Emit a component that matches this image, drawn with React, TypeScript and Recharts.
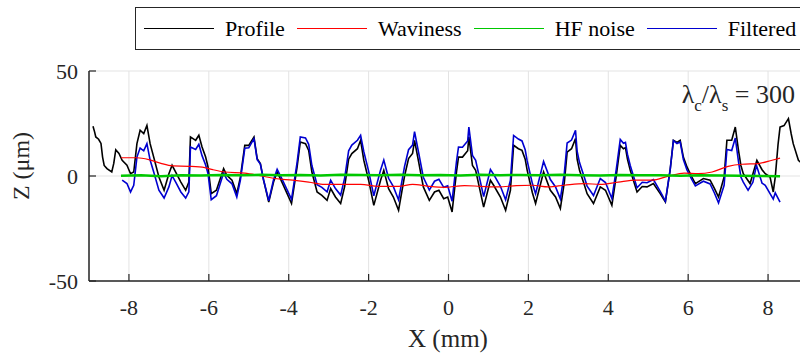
import { CartesianGrid, Legend, Line, LineChart, XAxis, YAxis } from "recharts";

const xTicks = [-8, -6, -4, -2, 0, 2, 4, 6, 8];
const yTicks = [-50, 0, 50];

// [x (mm), z (um)]
const profile: [number, number][] = [
    [-8.9, 23.7], [-8.86, 21], [-8.83, 18.6], [-8.76, 17.5], [-8.7, 15.5], [-8.66, 9], [-8.62, 5], [-8.55, 3.5],
    [-8.43, 1.9], [-8.38, 6], [-8.33, 12.5], [-8.25, 10.7], [-8.17, 7.5], [-8.05, 5.1], [-7.96, 1.1], [-7.88, 1.9],
    [-7.8, 15.4], [-7.72, 21.8], [-7.63, 20.2], [-7.55, 24.1], [-7.47, 15.4], [-7.38, 9], [-7.25, -0.5], [-7.12, -6.8],
    [-7.0, 1.1], [-6.92, 5.1], [-6.83, 1.9], [-6.7, -2.9], [-6.58, -6.8], [-6.5, -2.9], [-6.46, 18.6], [-6.33, 17],
    [-6.25, 19.4], [-6.17, 13.8], [-6.08, 9], [-6.02, 4.3], [-5.94, -8.4], [-5.81, -6.8], [-5.63, 3.5], [-5.55, 0.3],
    [-5.42, -2], [-5.3, -8.4], [-5.21, -0.5], [-5.1, 14.6], [-5.0, 14.6], [-4.87, 18.6], [-4.79, 8.3], [-4.71, 5.9],
    [-4.63, -2], [-4.5, -12.4], [-4.38, -2.9], [-4.29, 1.9], [-4.17, -2.9], [-4.04, -8.4], [-3.93, -13.1], [-3.79, 4.3],
    [-3.71, 16.2], [-3.58, 15.4], [-3.5, 12.2], [-3.42, 1.9], [-3.29, -7.6], [-3.17, -9.2], [-3.04, -11.6], [-2.95, -6],
    [-2.83, -10], [-2.7, -13.1], [-2.6, -5], [-2.5, 8], [-2.42, 10.7], [-2.28, 13], [-2.2, 17], [-2.12, 7.5],
    [-2.0, -2], [-1.87, -14], [-1.7, -2], [-1.62, 2.7], [-1.5, -6], [-1.38, -10], [-1.25, -16.3], [-1.1, 0],
    [-1.0, 8.3], [-0.9, 10.7], [-0.85, 17], [-0.75, 7], [-0.63, -5.2], [-0.48, -11.6], [-0.35, -7.6], [-0.24, -6.8],
    [-0.12, -10.8], [-0.02, -10], [0.09, -17.1], [0.2, 2], [0.25, 9], [0.35, 9], [0.48, 12], [0.51, 18.6],
    [0.6, 5], [0.68, 2.7], [0.88, -14.8], [1.05, -2], [1.13, -4.4], [1.3, -10], [1.43, -16.3], [1.55, -6.8],
    [1.63, 14.6], [1.75, 13], [1.84, 12.2], [1.92, 8], [1.97, 2.7], [2.1, -8], [2.18, -13.1], [2.38, 1.9],
    [2.55, -6.8], [2.68, -10], [2.8, -15.5], [2.9, -3], [2.97, 11.4], [3.08, 13], [3.18, 17.8], [3.22, 8],
    [3.28, 2.7], [3.38, -3], [3.47, -8.4], [3.63, -13.1], [3.8, -5.2], [3.93, -6.8], [4.09, -14], [4.2, 0],
    [4.3, 14.6], [4.38, 13], [4.43, 13.5], [4.48, 8], [4.55, 2.7], [4.72, -7.6], [4.85, -5], [4.97, -5.2],
    [5.13, -3.6], [5.3, -8.4], [5.43, -12.4], [5.55, 3], [5.63, 17], [5.72, 16], [5.8, 17], [5.88, 9],
    [5.97, 4.3], [6.08, 0], [6.18, -3.6], [6.38, -1.2], [6.55, -2], [6.66, -6], [6.76, -10], [6.9, -0.5],
    [6.97, 17], [7.09, 17], [7.18, 23.3], [7.26, 12.2], [7.32, 5], [7.38, 1.1], [7.55, -3.6], [7.72, 7.5],
    [7.85, 3], [7.93, 1.1], [8.05, -0.5], [8.13, -7.6], [8.18, -0.5], [8.25, 15], [8.3, 23.3], [8.4, 24],
    [8.51, 27.3], [8.58, 20], [8.63, 15.4], [8.76, 7.5], [8.9, 5], [9.0, 4],
];

const waviness: [number, number][] = [
    [-8.2, 8.7], [-7.8, 8.7], [-7.5, 7.8], [-7.2, 6.0], [-6.9, 4.8], [-6.5, 4.6], [-6.1, 4.0], [-5.9, 3.0],
    [-5.6, 1.9], [-5.1, 1.4], [-4.75, 0.3], [-4.35, -1.2], [-3.9, -2.0], [-3.5, -2.9], [-3.1, -4.0],
    [-2.6, -4.0], [-2.2, -4.0], [-1.75, -4.9], [-1.25, -4.9], [-0.9, -4.0], [-0.5, -4.9], [-0.1, -5.4],
    [0.4, -4.6], [0.8, -4.9], [1.25, -5.2], [1.7, -4.6], [2.1, -4.4], [2.5, -5.2], [2.9, -4.4],
    [3.4, -3.6], [3.8, -4.0], [4.25, -2.9], [4.7, -2.0], [5.1, -2.0], [5.5, -0.1], [5.9, 1.4],
    [6.25, 1.1], [6.6, 1.9], [7.0, 4.6], [7.35, 5.6], [7.75, 5.9], [8.1, 7.5], [8.3, 8.5],
];

const hfNoise: [number, number][] = [
    [-8.2, 0.1], [-7.7, 0.3], [-7.2, -0.1], [-6.7, 0.4], [-6.2, 0.2], [-5.7, 0.5], [-5.2, 0.3], [-4.7, 0.6],
    [-4.2, 0.4], [-3.7, 0.5], [-3.2, 0.2], [-2.7, 0.6], [-2.2, 0.5], [-1.7, 0.3], [-1.2, 0.6], [-0.7, 0.4],
    [-0.2, 0.5], [0.3, 0.2], [0.8, 0.6], [1.3, 0.4], [1.8, 0.5], [2.3, 0.3], [2.8, 0.6], [3.3, 0.4],
    [3.8, 0.2], [4.3, 0.5], [4.8, 0.3], [5.3, 0.4], [5.8, 0.1], [6.3, 0.3], [6.8, 0.2], [7.3, 0.1],
    [7.8, 0.0], [8.3, -0.1],
];

const filtered: [number, number][] = [
    [-8.17, -2], [-8.05, -3.6], [-7.96, -7.6], [-7.88, -4.4], [-7.8, 9], [-7.72, 13.3], [-7.63, 12], [-7.55, 15.4],
    [-7.47, 7.6], [-7.38, 1.9], [-7.25, -6.8], [-7.12, -10.5], [-7.0, -5.2], [-6.92, 0.2], [-6.83, -2.9], [-6.7, -7.6],
    [-6.58, -10.5], [-6.5, -7.5], [-6.46, 13.8], [-6.33, 12.6], [-6.25, 15.1], [-6.17, 9.7], [-6.08, 5.2], [-6.02, 1.1],
    [-5.94, -11.3], [-5.81, -9.4], [-5.63, 1.5], [-5.55, -1.6], [-5.42, -3.7], [-5.3, -10], [-5.21, -2], [-5.1, 13.2],
    [-5.0, 13.4], [-4.87, 17.8], [-4.79, 7.8], [-4.71, 5.7], [-4.63, -1.8], [-4.5, -11.8], [-4.38, -1.8], [-4.29, 3.2],
    [-4.17, -1.4], [-4.04, -6.6], [-3.93, -11.1], [-3.79, 6.5], [-3.71, 18.6], [-3.58, 18.1], [-3.5, 15.1], [-3.42, 5],
    [-3.29, -4.1], [-3.17, -5.4], [-3.04, -7.5], [-2.95, -2], [-2.83, -6], [-2.7, -9.1], [-2.6, -1], [-2.5, 12],
    [-2.42, 14.7], [-2.28, 17], [-2.2, 19.4], [-2.12, 11.6], [-2.0, 2.3], [-1.87, -9.4], [-1.7, 2.9], [-1.62, 7.6],
    [-1.5, -1.1], [-1.38, -5.1], [-1.25, -11.4], [-1.1, 4.6], [-1.0, 12.5], [-0.9, 14.7], [-0.85, 21.1], [-0.75, 11.3],
    [-0.63, -0.6], [-0.48, -6.7], [-0.35, -2.5], [-0.24, -1.6], [-0.12, -5.4], [-0.02, -4.7], [0.09, -12], [0.2, 6.9],
    [0.25, 13.8], [0.35, 13.7], [0.48, 16.7], [0.51, 23.3], [0.6, 9.8], [0.68, 7.5], [0.88, -9.8], [1.05, 3.1],
    [1.13, 0.8], [1.3, -4.9], [1.43, -11.3], [1.55, -2], [1.63, 19.3], [1.75, 17.6], [1.84, 16.7], [1.92, 12.5],
    [1.97, 7.2], [2.1, -3.6], [2.18, -8.5], [2.38, 6.9], [2.55, -1.7], [2.68, -5.2], [2.8, -10.9], [2.9, 1.4],
    [2.97, 15.7], [3.08, 17.1], [3.18, 21.7], [3.22, 11.8], [3.28, 6.4], [3.38, 0.6], [3.47, -4.8], [3.63, -9.3],
    [3.8, -1.2], [3.93, -3.1], [4.09, -10.7], [4.2, 3.1], [4.3, 17.4], [4.38, 15.6], [4.43, 16], [4.48, 10.4],
    [4.55, 5], [4.72, -5.6], [4.85, -3], [4.97, -3.2], [5.13, -1.7], [5.3, -7.3], [5.43, -12], [5.55, 3.1],
    [5.63, 16.8], [5.72, 15.5], [5.8, 16.2], [5.88, 7.8], [5.97, 2.9], [6.08, -1.3], [6.18, -4.7], [6.38, -2.5],
    [6.55, -3.8], [6.66, -8.2], [6.76, -12.8], [6.9, -4.4], [6.97, 12.6], [7.09, 12.1], [7.18, 18.1], [7.26, 6.8],
    [7.32, -0.5], [7.38, -2.9], [7.5, -6.8], [7.62, -3], [7.71, 5.1], [7.85, -3.4], [7.93, -4.4], [8.05, -8.4],
    [8.13, -11], [8.18, -8], [8.3, -12.4],
];

const legendOrder = ["Profile", "Waviness", "HF noise", "Filtered"];

const toRows = (pts: [number, number][]) => pts.map(([x, z]) => ({ x, z }));

const font = '"Liberation Serif", "Times New Roman", serif';
const ink = "#262626";

const BottomTick = ({ x, y, payload }: any) =>
    <g>
        <line x1={x} x2={x} y1={y} y2={y - 7} stroke={ink} strokeWidth={1.2} />
        <text x={x} y={y + 34} textAnchor="middle" fontSize={22} fontFamily={font} fill={ink}>{payload.value}</text>
    </g>;

const TopTick = ({ x, y }: any) =>
    <line x1={x} x2={x} y1={y} y2={y + 7} stroke={ink} strokeWidth={1.2} />;

const LeftTick = ({ x, y, payload }: any) =>
    <g>
        <line x1={x} x2={x + 7} y1={y} y2={y} stroke={ink} strokeWidth={1.2} />
        <text x={x - 11} y={y + 7.5} textAnchor="end" fontSize={22} fontFamily={font} fill={ink}>{payload.value}</text>
    </g>;

const renderLegend = ({ payload }: any) => {
    const items = [...(payload || [])].sort((a: any, b: any) => legendOrder.indexOf(a.value) - legendOrder.indexOf(b.value));
    return (
        <div style={{
            display: "flex", alignItems: "center", height: 43, boxSizing: "border-box", border: `1px solid ${ink}`,
            background: "#fff", paddingLeft: 8, fontFamily: font, fontSize: 22, color: "#000", whiteSpace: "nowrap"
        }}>
            {items.map((p: any) =>
                <span key={p.value} style={{ display: "flex", alignItems: "center", marginRight: 12 }}>
                    <span style={{ display: "inline-block", width: 70, borderTop: `1.5px solid ${p.color}`, marginRight: 11 }} />
                    {p.value}
                </span>
            )}
        </div>
    );
};

export default function App() {
    return (
        <div style={{ position: "absolute", left: 0, top: 0, width: 800, height: 359, overflow: "hidden", background: "#fff" }}>
            <LineChart width={830} height={359} margin={{ top: 71, right: 22, bottom: 0, left: 0 }}>
                <CartesianGrid stroke="#e3e3e3" strokeWidth={1} />
                <XAxis type="number" dataKey="x" domain={[-9, 9]} ticks={xTicks} interval={0} allowDataOverflow
                    height={78} tickSize={0} tickMargin={0} tickLine={false} tick={<BottomTick />}
                    axisLine={{ stroke: ink, strokeWidth: 1.5 }}
                    label={{
                        content: () => <text x={448} y={347} textAnchor="middle" fontSize={25} fontFamily={font} fill={ink}>X (mm)</text>
                    }} />
                <XAxis xAxisId="top" orientation="top" type="number" dataKey="x" domain={[-9, 9]} ticks={xTicks} interval={0}
                    height={0} tickSize={0} tickMargin={0} tickLine={false} tick={<TopTick />}
                    axisLine={{ stroke: ink, strokeWidth: 1.5 }} />
                <YAxis type="number" domain={[-50, 50]} ticks={yTicks} interval={0} width={89} allowDataOverflow
                    tickSize={0} tickMargin={0} tickLine={false} tick={<LeftTick />}
                    axisLine={{ stroke: ink, strokeWidth: 1.5 }}
                    label={{
                        content: () => <text transform="translate(29,166) rotate(-90)" textAnchor="middle" fontSize={24} fontFamily={font} fill={ink}>Z (μm)</text>
                    }} />
                <Line data={toRows(profile)} dataKey="z" name="Profile" type="linear" stroke="#000000" strokeWidth={1.6} dot={false} isAnimationActive={false} />
                <Line data={toRows(filtered)} dataKey="z" name="Filtered" type="linear" stroke="#0000d0" strokeWidth={1.6} dot={false} isAnimationActive={false} />
                <Line data={toRows(waviness)} dataKey="z" name="Waviness" type="monotone" stroke="#ff0000" strokeWidth={1.2} dot={false} isAnimationActive={false} />
                <Line data={toRows(hfNoise)} dataKey="z" name="HF noise" type="linear" stroke="#00c800" strokeWidth={2.5} dot={false} isAnimationActive={false} />
                <Legend layout="vertical" align="center" verticalAlign="middle" content={renderLegend}
                    wrapperStyle={{ position: "absolute", left: 135, top: 7, width: 720, height: 43 }} />
                <text x={795} y={103} textAnchor="end" fontSize={26} fontFamily={font} fill={ink}>
                    λ<tspan fontSize={17} dy={8}>c</tspan><tspan dy={-8}>/λ</tspan><tspan fontSize={17} dy={8}>s</tspan><tspan dy={-8}> = 300</tspan>
                </text>
            </LineChart>
        </div>
    );
}
